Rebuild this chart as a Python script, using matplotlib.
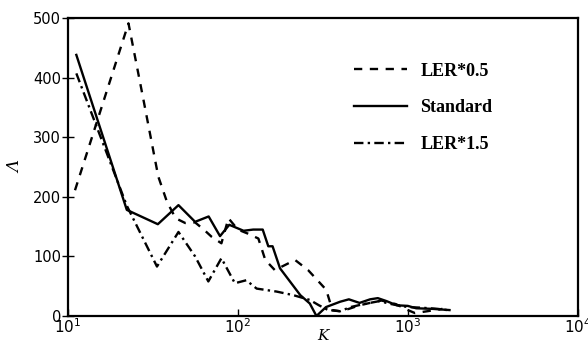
"""Lambda vs K for three LER settings (log x axis)."""

import matplotlib

matplotlib.use("Agg")
import matplotlib.pyplot as plt

# LER*0.5 (dashed)
k_half = [11.0, 22.7, 27.8, 34, 38.2, 43, 49, 56, 63, 70, 80, 88, 100, 115, 132,
          145, 165, 217, 259, 331, 360, 400, 450, 520, 600, 700, 850, 1000, 1100,
          1300, 1600]
lam_half = [211, 491, 363, 234, 192, 164, 156, 157, 145, 133, 122, 164, 145, 138,
            130, 94, 77, 94, 77, 44, 10, 8, 12, 18, 22, 26, 20, 10, 5, 8, 12]

# Standard (solid)
k_std = [11.2, 22.2, 33.8, 44.7, 56, 67.3, 78.5, 89, 108, 123, 140, 151, 160,
         177, 233, 265, 290, 330, 400, 450, 520, 600, 666, 750, 860, 1000, 1120,
         1400, 1760]
lam_std = [438, 178, 154, 186, 158, 167, 134, 153, 143, 145, 145, 117, 117,
           80, 35, 21, 0, 15, 24, 28, 22, 28, 30, 25, 18, 17, 13, 12, 10]

# LER*1.5 (dash-dot)
k_15 = [11.2, 22.2, 33.4, 44.7, 56, 67, 80, 96, 112, 129, 169, 212, 265, 300,
        340, 400, 460, 550, 680, 800, 1000, 1200, 1500, 1700]
lam_15 = [407, 185, 83, 141, 100, 58, 97, 55, 60, 46, 41, 35, 27, 18, 10, 8,
          15, 20, 25, 20, 15, 14, 12, 10]

fig = plt.figure(figsize=(5.88, 3.45), dpi=100)
ax = fig.add_axes([0.1156, 0.084, 0.8669, 0.864])

lw = 1.7
ax.plot(k_half, lam_half, color="black", lw=lw, dashes=(3.5, 3.2), label="LER*0.5")
ax.plot(k_std, lam_std, color="black", lw=lw, label="Standard")
ax.plot(k_15, lam_15, color="black", lw=lw, dashes=(4, 1.8, 1, 1.8), label="LER*1.5")

ax.set_xscale("log")
ax.set_xlim(10, 1e4)
ax.set_ylim(0, 500)
ax.set_yticks([0, 100, 200, 300, 400, 500])
ax.minorticks_off()
ax.tick_params(axis="x", direction="in", length=5, width=1, labelsize=11, pad=1)
ax.tick_params(axis="y", direction="inout", length=8, width=1, labelsize=10.5, pad=1)
for s in ax.spines.values():
    s.set_linewidth(1.6)

ax.set_xlabel("K", fontstyle="italic", family="DejaVu Serif", fontsize=11, labelpad=-5)
ax.set_ylabel("Λ", fontstyle="italic", family="DejaVu Serif", fontsize=12, labelpad=6)

ax.legend(loc="upper left", bbox_to_anchor=(0.53, 0.905), frameon=False,
          prop={"family": "Liberation Serif", "weight": "bold", "size": 13},
          handlelength=2.9, handletextpad=0.75, labelspacing=1.1)

fig.savefig("out.png", dpi=100)
